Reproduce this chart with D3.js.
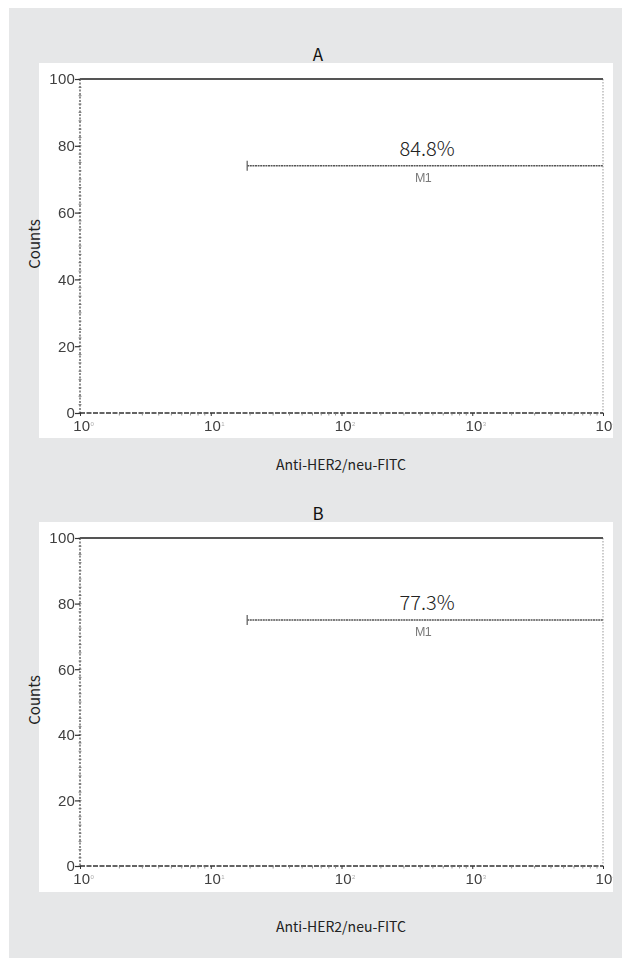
<!DOCTYPE html>
<html>
<head>
<meta charset="utf-8">
<script src="https://cdn.jsdelivr.net/npm/d3@7"></script>
<style>
  html, body { margin: 0; padding: 0; background: #ffffff; }
  svg { display: block; }
</style>
</head>
<body>
<svg id="chart" width="622" height="958"></svg>
<script>
// Flow cytometry histograms: anti-HER2/neu-FITC staining, two samples
const panelTitles = ["A", "B"];
const gatePercents = [84.8, 77.3];        // % of events inside gate M1
const gateNames = ["M1", "M1"];
const gateStarts = [19, 19];              // left edge of M1 (fluorescence units)
const gateEnds = [10000, 10000];          // right edge of M1
const gateLevels = [74, 75];              // height at which the gate bar is drawn (counts)
const yTickValues = [0, 20, 40, 60, 80, 100];
const xTickValues = [1, 10, 100, 1000, 10000];
const xTickExponents = ["0", "1", "2", "3", "4"];
const xAxisTitle = "Anti-HER2/neu-FITC";
const yAxisTitle = "Counts";

const W = 622, H = 958;
const svg = d3.select("#chart");

svg.append("rect").attr("x", 9).attr("y", 8).attr("width", W - 9).attr("height", H - 8)
  .attr("fill", "#e6e7e8");

const layouts = [
  { boxTop: 63, boxBottom: 438, plotTop: 79, plotBottom: 413, xLabelY: 470 },
  { boxTop: 522, boxBottom: 892, plotTop: 538, plotBottom: 866, xLabelY: 932 }
];
const boxLeft = 39, boxRight = 613, plotLeft = 80, plotRight = 603;

const defs = svg.append("defs");
defs.append("filter").attr("id", "soft")
  .append("feGaussianBlur").attr("stdDeviation", 0.5);

const titleFont = "'Noto Sans CJK KR', 'Noto Sans', sans-serif";
const tickFont = "'Liberation Sans', Arial, sans-serif";
const tickSize = "15px";
const tickSpacing = "0.2px";
const tickColor = "#3f3f3f";

panelTitles.forEach((title, i) => {
  const L = layouts[i];
  const g = svg.append("g");

  g.append("rect").attr("x", boxLeft).attr("y", L.boxTop)
    .attr("width", boxRight - boxLeft).attr("height", L.boxBottom - L.boxTop)
    .attr("fill", "#ffffff");

  const clipId = "clip" + i;
  defs.append("clipPath").attr("id", clipId)
    .append("rect").attr("x", boxLeft).attr("y", L.boxTop)
    .attr("width", boxRight - boxLeft).attr("height", L.boxBottom - L.boxTop);

  const x = d3.scaleLog().domain([1, 10000]).range([plotLeft, plotRight]);
  const y = d3.scaleLinear().domain([0, 100]).range([L.plotBottom, L.plotTop]);

  // panel letter
  g.append("text").attr("x", 318).attr("y", L.boxTop - 2)
    .attr("text-anchor", "middle").attr("font-family", titleFont)
    .attr("font-size", 17).attr("fill", "#111").text(title);

  // right frame edge (dotted light grey)
  g.append("line").attr("x1", plotRight).attr("x2", plotRight)
    .attr("y1", y(100)).attr("y2", y(0))
    .attr("stroke", "#aaa").attr("stroke-width", 1.2).attr("stroke-dasharray", "1.5,1.5");

  // top frame edge
  g.append("line").attr("x1", plotLeft).attr("x2", plotRight)
    .attr("y1", y(100)).attr("y2", y(100))
    .attr("stroke", "#555").attr("stroke-width", 2);

  // y axis: dotted line with minor ticks every 2.5 counts
  const yAxisG = g.append("g").attr("filter", "url(#soft)");
  yAxisG.append("line").attr("x1", plotLeft).attr("x2", plotLeft)
    .attr("y1", y(100)).attr("y2", y(0))
    .attr("stroke", "#444").attr("stroke-width", 1.2).attr("stroke-dasharray", "2,1.5");
  const yMinor = d3.range(0, 100.01, 2.5);
  yAxisG.selectAll("line.ym").data(yMinor).join("line").attr("class", "ym")
    .attr("x1", plotLeft - 1.5).attr("x2", plotLeft + 1.5)
    .attr("y1", d => y(d)).attr("y2", d => y(d))
    .attr("stroke", "#666").attr("stroke-width", 0.8);
  const yAxis = d3.axisLeft(y).tickValues(yTickValues).tickSize(5).tickPadding(0)
    .tickFormat(d3.format("d"));
  const yg = yAxisG.append("g").attr("transform", `translate(${plotLeft},0)`).call(yAxis);
  yg.select(".domain").remove();
  yg.attr("font-size", null).attr("font-family", null);
  yg.selectAll(".tick line").attr("stroke", "#333").attr("stroke-width", 1.2);
  yg.selectAll(".tick text").style("font-family", tickFont).style("font-size", tickSize)
    .attr("fill", tickColor).style("letter-spacing", tickSpacing);

  // x axis: dashed baseline with log minor ticks
  const xOuter = g.append("g").attr("clip-path", `url(#${clipId})`);
  const xAxisG = xOuter.append("g").attr("filter", "url(#soft)");
  xAxisG.append("line").attr("x1", plotLeft).attr("x2", plotRight)
    .attr("y1", y(0)).attr("y2", y(0))
    .attr("stroke", "#333").attr("stroke-width", 1.5).attr("stroke-dasharray", "5,1.5");
  const xMinor = x.ticks().filter(d => xTickValues.indexOf(d) < 0);
  xAxisG.selectAll("line.xm").data(xMinor).join("line").attr("class", "xm")
    .attr("x1", d => x(d)).attr("x2", d => x(d))
    .attr("y1", y(0)).attr("y2", y(0) + 2.5)
    .attr("stroke", "#777").attr("stroke-width", 0.8);
  const xAxis = d3.axisBottom(x).tickValues(xTickValues).tickSize(3).tickPadding(4)
    .tickFormat(() => "");
  const xg = xAxisG.append("g").attr("transform", `translate(0,${y(0)})`).call(xAxis);
  xg.select(".domain").remove();
  xg.attr("font-size", null).attr("font-family", null);
  xg.selectAll(".tick line").attr("stroke", "#333").attr("stroke-width", 1);
  xg.selectAll(".tick text").each(function (d, k) {
    const last = k === xTickValues.length - 1;
    const t = d3.select(this).style("font-family", tickFont).attr("fill", tickColor)
      .attr("text-anchor", last ? "start" : "middle")
      .attr("dx", last ? "-8" : "3");
    t.append("tspan").style("font-size", tickSize).style("letter-spacing", tickSpacing).text("10");
    t.append("tspan").style("font-size", "6px").attr("fill", "#aaa").attr("dy", "-5")
      .text(xTickExponents[k]);
  });

  // gate M1
  const gy = y(gateLevels[i]);
  const gateG = g.append("g").attr("filter", "url(#soft)");
  gateG.append("line").attr("x1", x(gateStarts[i])).attr("x2", x(gateEnds[i]))
    .attr("y1", gy).attr("y2", gy)
    .attr("stroke", "#555").attr("stroke-width", 1.5).attr("stroke-dasharray", "2,0.6");
  gateG.append("line").attr("x1", x(gateStarts[i])).attr("x2", x(gateStarts[i]))
    .attr("y1", gy - 5).attr("y2", gy + 5)
    .attr("stroke", "#666").attr("stroke-width", 1.3);
  const gateMid = (x(gateStarts[i]) + x(gateEnds[i])) / 2;
  gateG.append("text").attr("x", gateMid - 2).attr("y", gy + 16)
    .attr("text-anchor", "middle").attr("font-family", tickFont).attr("font-size", 12.5)
    .attr("fill", "#7a7a7a").attr("letter-spacing", "-0.5").text(gateNames[i]);

  g.append("text").attr("x", gateMid + 2).attr("y", gy - 10)
    .attr("text-anchor", "middle").attr("font-family", titleFont).attr("font-weight", 300)
    .attr("font-size", 20).attr("fill", "#222").text(gatePercents[i].toFixed(1) + "%");

  // axis titles
  g.append("text").attr("x", 341).attr("y", L.xLabelY)
    .attr("text-anchor", "middle").attr("font-family", titleFont)
    .attr("font-size", 14).attr("fill", "#222").text(xAxisTitle);
  const yMid = (L.plotTop + L.plotBottom) / 2 - 2;
  g.append("text").attr("transform", `translate(40,${yMid}) rotate(-90)`)
    .attr("text-anchor", "middle").attr("font-family", titleFont)
    .attr("font-size", 15).attr("fill", "#222").text(yAxisTitle);
});
</script>
</body>
</html>
